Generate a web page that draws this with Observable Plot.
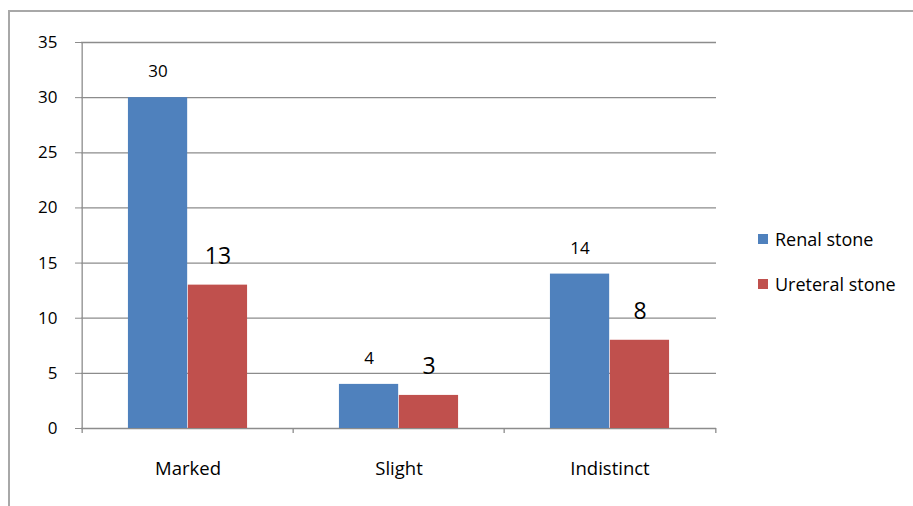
<!DOCTYPE html>
<html>
<head>
<meta charset="utf-8">
<script src="https://cdn.jsdelivr.net/npm/d3@7"></script>
<script src="https://cdn.jsdelivr.net/npm/@observablehq/plot@0.6"></script>
<style>
  body { margin: 0; background: #fff; font-family: "Open Sans", Lato, sans-serif; }
  #wrap { position: relative; width: 913px; height: 506px; overflow: hidden; }
  #border { position: absolute; left: 8px; top: 10px; width: 1000px; height: 600px;
            border-top: 2px solid #a8a8a8; border-left: 2px solid #a8a8a8; }
  #chart { position: absolute; left: 0; top: 0; }
  .item { position: absolute; left: 758px; display: flex; align-items: center;
          font-size: 18px; font-weight: 500; color: #000; white-space: nowrap; }
  .sw { width: 10px; height: 10px; margin-right: 7px; }
</style>
</head>
<body>
<div id="wrap">
  <div id="border"></div>
  <div id="chart"></div>
</div>
<script>
// ---- data ----
const categories = ["Marked", "Slight", "Indistinct"];
const series = ["Renal stone", "Ureteral stone"];
const renalValues = [30, 4, 14];
const ureteralValues = [13, 3, 8];
const yTicks = [0, 5, 10, 15, 20, 25, 30, 35];
const colors = ["#4F81BD", "#C0504D"];

// ---- layout ----
const W = 913, H = 506;
const mL = 81, mR = 197, mT = 42, mB = 78;
const band = (W - mL - mR) / categories.length;
const gridColor = "#8c8c8c";

const renalRows = categories.map((c, i) => ({category: c, series: series[0], value: renalValues[i]}));
const ureteralRows = categories.map((c, i) => ({category: c, series: series[1], value: ureteralValues[i]}));

const plot = Plot.plot({
  width: W, height: H,
  marginLeft: mL, marginRight: mR, marginTop: mT, marginBottom: mB,
  style: {fontFamily: "'Open Sans', Lato, sans-serif", fontWeight: 500, color: "#000", background: "transparent"},
  x: {type: "band", domain: categories, padding: 0, label: null},
  y: {domain: [0, 35], label: null},
  color: {domain: series, range: colors},
  marks: [
    Plot.gridY(yTicks, {stroke: gridColor, strokeOpacity: 1, strokeWidth: 1.3}),
    Plot.barY(renalRows, {x: "category", y: "value", fill: "series", insetLeft: band * 0.217, insetRight: band / 2}),
    Plot.barY(ureteralRows, {x: "category", y: "value", fill: "series", insetLeft: band / 2, insetRight: band * 0.217}),
    Plot.text(renalRows, {x: "category", y: "value", text: d => String(d.value), dx: -band * 0.1417, dy: -26, fontSize: 17, fontWeight: 500, fill: "#000"}),
    Plot.text(ureteralRows, {x: "category", y: "value", text: d => String(d.value), dx: band * 0.1417, dy: -29, fontSize: 23, fontWeight: 500, fill: "#000"}),
    // y axis line
    Plot.ruleX([categories[0]], {x: d => d, dx: -band / 2, y1: 35, y2: -0.45, stroke: gridColor, strokeWidth: 1.3}),
    // category boundary ticks
    Plot.ruleX(categories.slice(1), {x: d => d, dx: -band / 2, y1: 0, y2: -0.45, stroke: gridColor, strokeWidth: 1.3}),
    Plot.ruleX([categories[categories.length - 1]], {x: d => d, dx: band / 2, y1: 0, y2: -0.45, stroke: gridColor, strokeWidth: 1.3}),
    Plot.axisY(yTicks, {tickSize: 6, tickPadding: 18, fontSize: 17, fontWeight: 500, stroke: gridColor, fill: "#000", label: null}),
    Plot.axisX({tickSize: 0, tickPadding: 33, fontSize: 18.5, fontWeight: 500, fill: "#000", label: null})
  ]
});
document.getElementById("chart").appendChild(plot);

// ---- legend ----
const legendTops = [238.5, 283.5];
const wrap = document.getElementById("wrap");
series.forEach((s, i) => {
  const item = document.createElement("div");
  item.className = "item";
  item.style.top = (legendTops[i] - 12) + "px";
  item.style.height = "24px";
  const sw = document.createElement("span");
  sw.className = "sw";
  sw.style.background = colors[i];
  const t = document.createElement("span");
  t.textContent = s;
  item.appendChild(sw);
  item.appendChild(t);
  wrap.appendChild(item);
});
</script>
</body>
</html>
